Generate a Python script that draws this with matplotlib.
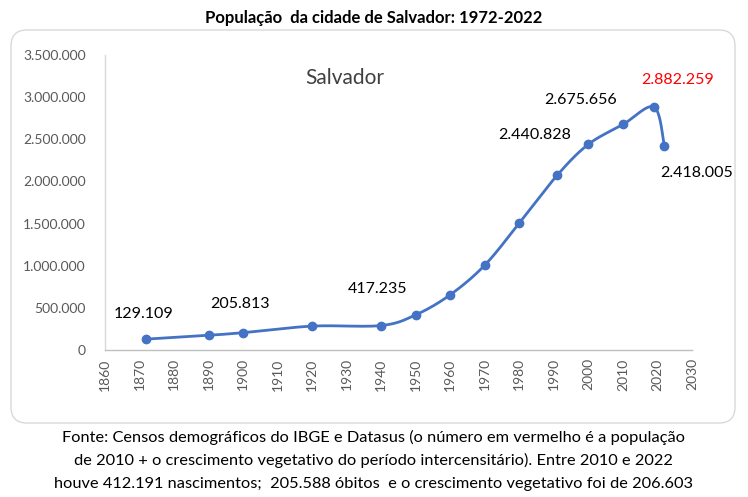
import numpy as np
import matplotlib
matplotlib.use("Agg")
import matplotlib.pyplot as plt
from matplotlib.patches import FancyBboxPatch
from matplotlib.transforms import IdentityTransform

plt.rcParams['font.family'] = ['Lato', 'DejaVu Sans']

# ---- data ----
years = [1872, 1890, 1900, 1920, 1940, 1950, 1960, 1970, 1980, 1991, 2000, 2010, 2019, 2022]
population = [129109, 174412, 205813, 283422, 290443, 417235, 655735, 1007195,
              1506602, 2075273, 2440828, 2675656, 2882259, 2418005]
label_idx = [0, 2, 5, 10, 11, 12, 13]
label_text = ["129.109", "205.813", "417.235", "2.440.828", "2.675.656", "2.882.259", "2.418.005"]
label_color = ["black", "black", "black", "black", "black", "red", "black"]
label_offset_px = [(-3, 25), (-3, 29), (-38, 26), (-54, 9), (-42, 24), (24, 27), (32, -27)]
xticks = list(range(1860, 2031, 10))
yticks = list(range(0, 3500001, 500000))
ytick_labels = ["0", "500.000", "1.000.000", "1.500.000", "2.000.000", "2.500.000", "3.000.000", "3.500.000"]

title = "População  da cidade de Salvador: 1972-2022"
caption = ["Fonte: Censos demográficos do IBGE e Datasus (o número em vermelho é a população",
           "de 2010 + o crescimento vegetativo do período intercensitário). Entre 2010 e 2022",
           "houve 412.191 nascimentos;  205.588 óbitos  e o crescimento vegetativo foi de 206.603"]

W, H = 748, 497
fig = plt.figure(figsize=(W / 100, H / 100), dpi=100)

# rounded frame
box = FancyBboxPatch((11, H - 423), 735 - 11, 423 - 30,
                     boxstyle="round,pad=0,rounding_size=16",
                     transform=IdentityTransform(), facecolor="none",
                     edgecolor="#d9d9d9", linewidth=1.0, zorder=-1)
fig.patches.append(box)

left, right, top, bottom = 105, 692, 55, 350
ax = fig.add_axes([left / W, 1 - bottom / H, (right - left) / W, (bottom - top) / H])
ax.set_facecolor("none")
ax.set_zorder(2)
ax.set_xlim(1860, 2030)
ax.set_ylim(0, 3500000)

# Excel-like smoothed line (Catmull-Rom Bezier in display space)
fig.canvas.draw()
pts = ax.transData.transform(np.column_stack([years, population]))
n = len(pts)
curve = []
t = np.linspace(0, 1, 30)
for i in range(n - 1):
    p0 = pts[i - 1] if i > 0 else pts[i]
    p1 = pts[i]
    p2 = pts[i + 1]
    p3 = pts[i + 2] if i + 2 < n else pts[i + 1]
    c1 = p1 + (p2 - p0) / 6
    c2 = p2 - (p3 - p1) / 6
    seg = ((1 - t) ** 3)[:, None] * p1 + (3 * (1 - t) ** 2 * t)[:, None] * c1 \
        + (3 * (1 - t) * t ** 2)[:, None] * c2 + (t ** 3)[:, None] * p2
    curve.append(seg if i == 0 else seg[1:])
curve = np.vstack(curve)
curve_data = ax.transData.inverted().transform(curve)
ax.plot(curve_data[:, 0], curve_data[:, 1], color="#4472C4", lw=2.0, solid_capstyle="round", zorder=3)
ax.plot(years, population, "o", color="#4472C4", markersize=6, zorder=4)

for k, i in enumerate(label_idx):
    ax.annotate(label_text[k], xy=(years[i], population[i]), xytext=label_offset_px[k],
                textcoords="offset pixels", ha="center", va="center",
                fontsize=11.5, color=label_color[k], zorder=5)

ax.text((345 - left) / (right - left), 1 - (78 - top) / (bottom - top), "Salvador",
        transform=ax.transAxes, ha="center", va="center", fontsize=15, color="#404040")

ax.set_xticks(xticks)
ax.set_xticklabels([str(x) for x in xticks], rotation=90)
ax.set_yticks(yticks)
ax.set_yticklabels(ytick_labels)
ax.tick_params(axis="both", length=0, labelsize=10, labelcolor="#595959")
ax.tick_params(axis="y", pad=14)
ax.tick_params(axis="x", pad=6)
for s in ["top", "right"]:
    ax.spines[s].set_visible(False)
ax.spines["left"].set_color("#d9d9d9")
ax.spines["bottom"].set_color("#bfbfbf")
ax.spines["left"].set_linewidth(1.0)
ax.spines["bottom"].set_linewidth(1.0)

fig.text(374 / W, 1 - 18 / H, title, ha="center", va="center", fontsize=12, fontweight="bold")
for j, line in enumerate(caption):
    fig.text(373 / W, 1 - (437 + 23.5 * j) / H, line, ha="center", va="center", fontsize=11.8)

fig.savefig("out.png", dpi=100)
